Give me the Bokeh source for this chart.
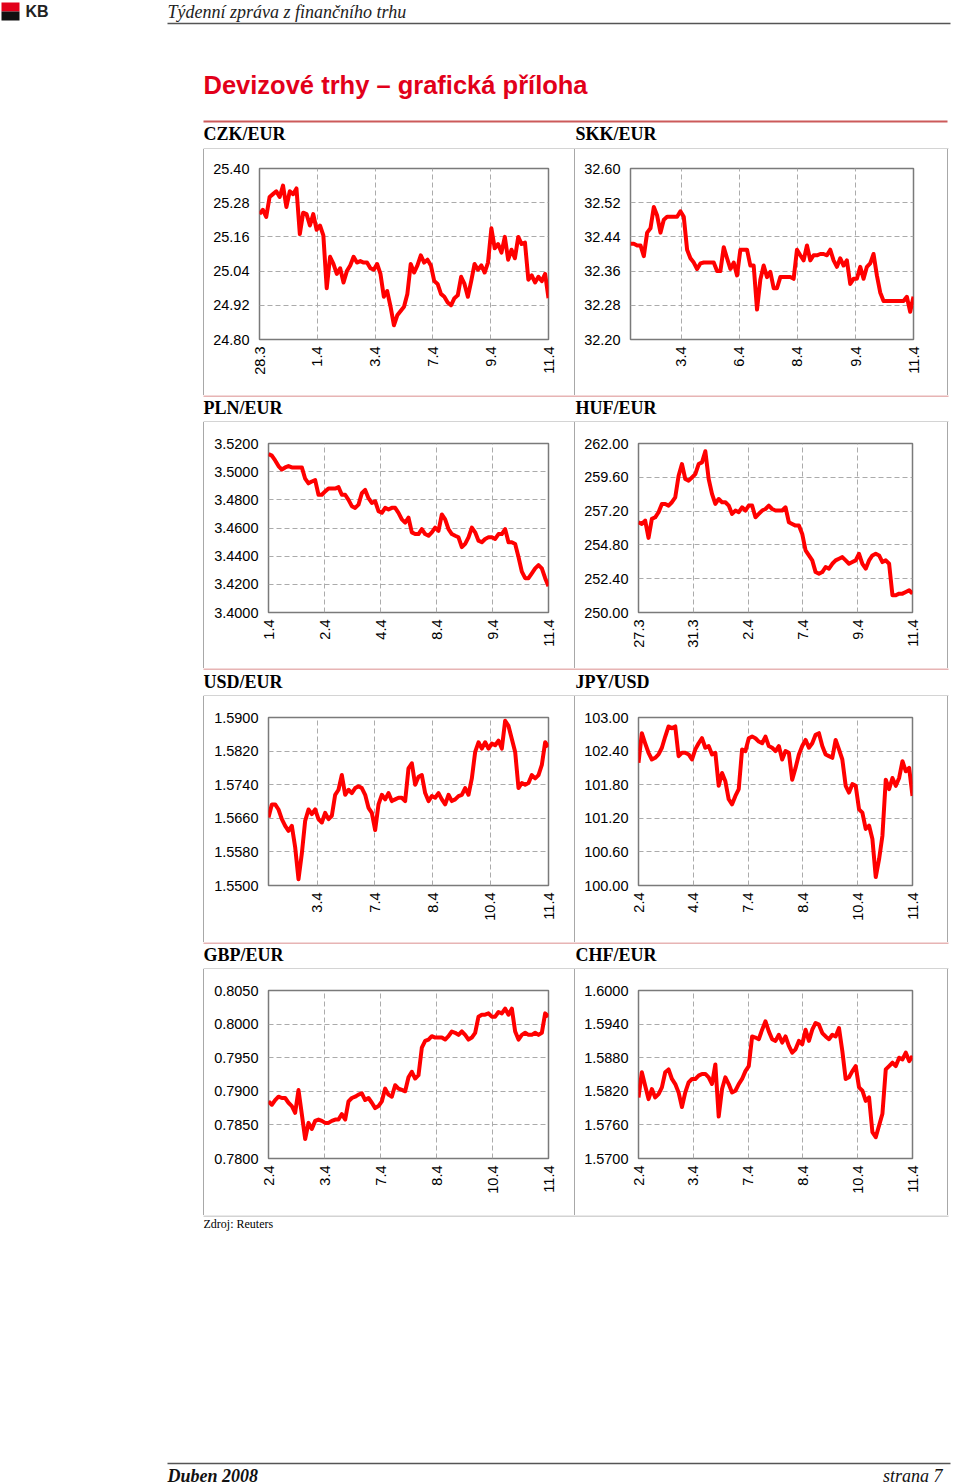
import math
from bokeh.plotting import figure
from bokeh.layouts import column, row
from bokeh.models import Range1d, FixedTicker, NumeralTickFormatter, Spacer
from bokeh.core.properties import value
from bokeh.embed import file_html
from bokeh.resources import INLINE

# ---------------- data ----------------
czk_eur = [25.24, 25.255, 25.23, 25.30, 25.31, 25.32, 25.30, 25.34, 25.265, 25.32,
           25.31, 25.33, 25.17, 25.245, 25.24, 25.20, 25.24, 25.185, 25.20, 25.165,
           24.98, 25.09, 25.065, 25.03, 25.05, 25.00, 25.04, 25.06, 25.09, 25.07,
           25.075, 25.07, 25.07, 25.05, 25.045, 25.065, 25.03, 24.95, 24.97, 24.915,
           24.85, 24.885, 24.90, 24.915, 24.96, 25.065, 25.035, 25.06, 25.095, 25.07,
           25.08, 25.06, 25.005, 24.995, 24.96, 24.95, 24.93, 24.92, 24.945, 24.955,
           25.02, 24.995, 24.95, 25.005, 25.065, 25.045, 25.06, 25.035, 25.07, 25.19,
           25.12, 25.135, 25.105, 25.16, 25.08, 25.115, 25.085, 25.16, 25.135, 25.14,
           25.01, 25.025, 25.00, 25.02, 25.005, 25.03, 24.945]
czk_yticks = [24.80, 24.92, 25.04, 25.16, 25.28, 25.40]
czk_xticks = [0, 17.2, 34.4, 51.6, 68.8, 86]
czk_xlabels = ["28.3", "1.4", "3.4", "7.4", "9.4", "11.4"]

skk_eur = [32.424, 32.424, 32.42, 32.42, 32.395, 32.45, 32.46, 32.51, 32.49, 32.45,
           32.48, 32.487, 32.487, 32.487, 32.487, 32.50, 32.487, 32.41, 32.39, 32.38,
           32.365, 32.378, 32.38, 32.38, 32.38, 32.38, 32.36, 32.36, 32.416, 32.39,
           32.365, 32.38, 32.35, 32.41, 32.41, 32.41, 32.373, 32.373, 32.27, 32.34,
           32.373, 32.346, 32.358, 32.32, 32.32, 32.346, 32.346, 32.346, 32.346, 32.342,
           32.41, 32.397, 32.385, 32.42, 32.385, 32.397, 32.397, 32.40, 32.40, 32.397,
           32.41, 32.385, 32.37, 32.39, 32.373, 32.385, 32.33, 32.342, 32.342, 32.37,
           32.342, 32.37, 32.378, 32.40, 32.35, 32.31, 32.29, 32.29, 32.29, 32.29,
           32.29, 32.29, 32.29, 32.30, 32.265, 32.30]
skk_yticks = [32.20, 32.28, 32.36, 32.44, 32.52, 32.60]
skk_xticks = [15.2, 32.6, 50.1, 67.6, 85]
skk_xlabels = ["3.4", "6.4", "8.4", "9.4", "11.4"]

pln_eur = [3.5126, 3.5114, 3.508, 3.504, 3.5015, 3.503, 3.504, 3.503, 3.503, 3.503,
           3.503, 3.495, 3.4917, 3.493, 3.494, 3.4836, 3.4836, 3.486, 3.488, 3.488,
           3.488, 3.489, 3.4836, 3.4836, 3.48, 3.4755, 3.4743, 3.4766, 3.4847, 3.487,
           3.4812, 3.4778, 3.479, 3.472, 3.4708, 3.4743, 3.4731, 3.4743, 3.4743, 3.4708,
           3.4661, 3.4638, 3.4673, 3.4569, 3.4557, 3.4557, 3.4592, 3.4557, 3.4545, 3.4569,
           3.4603, 3.458, 3.4696, 3.4661, 3.4592, 3.4557, 3.4545, 3.4534, 3.4464, 3.4487,
           3.4534, 3.4603, 3.4569, 3.451, 3.4499, 3.4522, 3.4534, 3.4534, 3.4522, 3.4557,
           3.4557, 3.4592, 3.4499, 3.4499, 3.4487, 3.4394, 3.429, 3.4244, 3.4244, 3.4278,
           3.4313, 3.4336, 3.4313, 3.4244, 3.4186]
pln_yticks = [3.40, 3.42, 3.44, 3.46, 3.48, 3.50, 3.52]
pln_xticks = [0, 16.8, 33.6, 50.4, 67.2, 84]
pln_xlabels = ["1.4", "2.4", "4.4", "8.4", "9.4", "11.4"]

huf_eur = [256.41, 256.29, 256.53, 255.3, 256.65, 256.76, 257.12, 257.71, 257.71, 257.59,
           257.83, 258.18, 259.71, 260.54, 259.48, 259.36, 259.59, 259.83, 260.54, 260.66,
           261.45, 259.48, 258.42, 257.71, 258.06, 257.83, 257.83, 257.59, 257.0, 257.24,
           257.12, 257.47, 257.24, 257.59, 257.59, 256.76, 257.0, 257.24, 257.35, 257.59,
           257.35, 257.24, 257.24, 257.24, 257.47, 256.41, 256.29, 256.17, 256.17, 255.58,
           254.41, 254.05, 253.70, 252.87, 252.75, 252.87, 253.23, 253.11, 253.46, 253.70,
           253.82, 253.93, 253.70, 253.46, 253.58, 253.70, 254.17, 253.46, 253.11, 253.70,
           254.05, 254.17, 254.05, 253.58, 253.70, 253.46, 251.22, 251.22, 251.34, 251.34,
           251.46, 251.58, 251.34]
huf_yticks = [250.00, 252.40, 254.80, 257.20, 259.60, 262.00]
huf_xticks = [0, 16.4, 32.8, 49.2, 65.6, 82]
huf_xlabels = ["27.3", "31.3", "2.4", "7.4", "9.4", "11.4"]

usd_eur = [1.5662, 1.5693, 1.5693, 1.5681, 1.5658, 1.5642, 1.563, 1.5642, 1.5591, 1.5515,
           1.5576, 1.5654, 1.5681, 1.567, 1.5681, 1.5658, 1.565, 1.5673, 1.5658, 1.5666,
           1.5716, 1.5728, 1.5763, 1.5716, 1.5728, 1.572, 1.5732, 1.5736, 1.5732, 1.5716,
           1.5685, 1.5673, 1.5632, 1.5693, 1.5716, 1.5705, 1.572, 1.5701, 1.5705, 1.5709,
           1.5709, 1.5701, 1.5779, 1.5791, 1.574, 1.5759, 1.5763, 1.572, 1.5701, 1.5713,
           1.5709, 1.572, 1.5705, 1.5693, 1.5716, 1.5701, 1.5705, 1.5713, 1.5716, 1.5732,
           1.5716, 1.5755, 1.5818, 1.5841, 1.5826, 1.5841, 1.5826, 1.5838, 1.5834, 1.5845,
           1.5826, 1.5892, 1.588, 1.5849, 1.5818, 1.5732, 1.5744, 1.574, 1.5744, 1.5763,
           1.5755, 1.5763, 1.5787, 1.5841, 1.583]
usd_yticks = [1.5500, 1.5580, 1.5660, 1.5740, 1.5820, 1.5900]
usd_xticks = [14.6, 31.9, 49.2, 66.5, 84]
usd_xlabels = ["3.4", "7.4", "8.4", "10.4", "11.4"]

jpy_usd = [102.19, 102.72, 102.54, 102.37, 102.25, 102.28, 102.34, 102.46, 102.66, 102.84,
           102.81, 102.84, 102.31, 102.37, 102.37, 102.34, 102.25, 102.43, 102.54, 102.63,
           102.46, 102.49, 102.34, 102.37, 101.78, 102.01, 101.86, 101.54, 101.45, 101.60,
           101.72, 102.43, 102.40, 102.63, 102.66, 102.63, 102.57, 102.54, 102.66, 102.49,
           102.46, 102.40, 102.49, 102.25, 102.40, 102.37, 101.89, 102.10, 102.34, 102.49,
           102.60, 102.46, 102.54, 102.69, 102.72, 102.49, 102.34, 102.31, 102.28, 102.60,
           102.43, 102.25, 101.78, 101.66, 101.81, 101.78, 101.36, 101.30, 101.01, 101.07,
           100.83, 100.15, 100.47, 100.89, 101.89, 101.72, 101.92, 101.78, 101.92, 102.22,
           102.04, 102.10, 101.60]
jpy_yticks = [100.00, 100.60, 101.20, 101.80, 102.40, 103.00]
jpy_xticks = [0, 16.4, 32.8, 49.2, 65.6, 82]
jpy_xlabels = ["2.4", "4.4", "7.4", "8.4", "10.4", "11.4"]

gbp_eur = [0.7885, 0.7880, 0.7887, 0.7892, 0.7890, 0.7890, 0.7883, 0.7878, 0.7868, 0.7902,
           0.7866, 0.7829, 0.7853, 0.7844, 0.7856, 0.7858, 0.7856, 0.7853, 0.7853, 0.7856,
           0.7858, 0.7858, 0.7866, 0.7858, 0.7885, 0.7890, 0.7892, 0.7895, 0.7897, 0.7887,
           0.7890, 0.7883, 0.7875, 0.7878, 0.7885, 0.7904, 0.7895, 0.7892, 0.7909, 0.7904,
           0.7902, 0.7900, 0.7921, 0.7929, 0.7919, 0.7924, 0.7965, 0.7975, 0.7977, 0.7982,
           0.7980, 0.7980, 0.7980, 0.7977, 0.7982, 0.7989, 0.7987, 0.7984, 0.7989, 0.7984,
           0.7977, 0.7980, 0.7987, 0.8011, 0.8014, 0.8014, 0.8016, 0.8011, 0.8011, 0.8018,
           0.8016, 0.8023, 0.8014, 0.8023, 0.7989, 0.7977, 0.7984, 0.7987, 0.7984, 0.7984,
           0.7987, 0.7984, 0.7987, 0.8016, 0.8011]
gbp_yticks = [0.7800, 0.7850, 0.7900, 0.7950, 0.8000, 0.8050]
gbp_xticks = [0, 16.8, 33.6, 50.4, 67.2, 84]
gbp_xlabels = ["2.4", "3.4", "7.4", "8.4", "10.4", "11.4"]

chf_eur = [1.5809, 1.5854, 1.5830, 1.5806, 1.5824, 1.5809, 1.5815, 1.5827, 1.5854, 1.5859,
           1.5842, 1.5833, 1.5818, 1.5792, 1.5818, 1.5836, 1.5842, 1.5842, 1.5848, 1.5851,
           1.5851, 1.5845, 1.5833, 1.5868, 1.5775, 1.5824, 1.5845, 1.5833, 1.5818, 1.5821,
           1.5833, 1.5842, 1.5856, 1.5865, 1.5918, 1.5916, 1.5913, 1.5930, 1.5945, 1.5927,
           1.5913, 1.5910, 1.5921, 1.5907, 1.5918, 1.5901, 1.5889, 1.5895, 1.5910, 1.5904,
           1.5930, 1.5910, 1.5930, 1.5942, 1.5939, 1.5924, 1.5918, 1.5913, 1.5921, 1.5918,
           1.5933, 1.5892, 1.5842, 1.5845, 1.5856, 1.5865, 1.5827, 1.5821, 1.5803, 1.5809,
           1.5747, 1.5738, 1.5759, 1.5780, 1.5859, 1.5865, 1.5871, 1.5865, 1.5880, 1.5877,
           1.5889, 1.5874, 1.5883]
chf_yticks = [1.5700, 1.5760, 1.5820, 1.5880, 1.5940, 1.6000]
chf_xticks = [0, 16.4, 32.8, 49.2, 65.6, 82]
chf_xlabels = ["2.4", "3.4", "7.4", "8.4", "10.4", "11.4"]

panel_titles = ["CZK/EUR", "SKK/EUR", "PLN/EUR", "HUF/EUR",
                "USD/EUR", "JPY/USD", "GBP/EUR", "CHF/EUR"]

SANS = "Liberation Sans"
SERIF = "Liberation Serif"
RED_RULE = "#d06a6a"
GRAY_BORDER = "#a8a8a8"


def chart(vals, yticks, yfmt, x_end, xticks, xlabels, width, ml, mr, mt, mb, height=246):
    p = figure(width=width, height=height, output_backend="svg", toolbar_location=None,
               tools="", x_range=Range1d(0, x_end), y_range=Range1d(yticks[0], yticks[-1]),
               min_border_left=ml, min_border_right=mr, min_border_top=mt,
               min_border_bottom=mb)
    p.background_fill_color = "white"
    p.border_fill_color = "white"
    p.outline_line_color = "#7a7a7a"
    p.outline_line_width = 1.5
    p.line(list(range(len(vals))), vals, line_color="#ff0000", line_width=4,
           line_join="round")
    p.xaxis.ticker = FixedTicker(ticks=xticks)
    p.yaxis.ticker = FixedTicker(ticks=yticks)
    p.xgrid.ticker = FixedTicker(ticks=xticks)
    p.ygrid.ticker = FixedTicker(ticks=yticks)
    p.xaxis.major_label_overrides = {t: l for t, l in zip(xticks, xlabels)}
    p.xaxis.major_label_orientation = math.pi / 2
    p.yaxis.formatter = NumeralTickFormatter(format=yfmt)
    for ax in (p.xaxis[0], p.yaxis[0]):
        ax.axis_line_color = None
        ax.major_tick_in = 0
        ax.major_tick_out = 0
        ax.minor_tick_in = 0
        ax.minor_tick_out = 0
        ax.major_label_text_font = SANS
        ax.major_label_text_font_size = "14.5px"
        ax.major_label_text_color = "#000000"
    p.xaxis.major_label_standoff = 7
    p.yaxis.major_label_standoff = 10
    for g in (p.xgrid[0], p.ygrid[0]):
        g.grid_line_color = "#ababab"
        g.grid_line_dash = "5 3"
        g.grid_line_width = 1
    return p


def deco(height):
    p = figure(width=960, height=height, output_backend="svg", toolbar_location=None,
               tools="", x_range=Range1d(0, 960), y_range=Range1d(height, 0),
               x_axis_type=None, y_axis_type=None, min_border=0)
    p.grid.visible = False
    p.outline_line_color = None
    p.background_fill_color = "white"
    p.border_fill_color = "white"
    return p


def labels(p, y, left_text, right_text):
    p.text(x=[203, 575], y=[y, y], text=[left_text, right_text],
           text_font=value(SERIF), text_font_style="bold", text_font_size="18px",
           text_baseline="middle", text_align="left", text_color="#000000")


def vline(h):
    return Spacer(width=1, height=h, styles={"background-color": GRAY_BORDER})


def cell_row(left, right, h=246):
    return row(Spacer(width=203, height=h), vline(h), left, vline(h), right, vline(h),
               Spacer(width=12, height=h))


# ---------------- header ----------------
head = deco(149)
head.quad(left=[1], right=[19], top=[2], bottom=[11], fill_color="#e2001a", line_color=None)
head.quad(left=[1], right=[19], top=[11], bottom=[20], fill_color="#111111", line_color=None)
head.text(x=[25], y=[11], text=["KB"], text_font=value(SANS), text_font_style="bold",
          text_font_size="16px", text_baseline="middle", text_color="#222222")
head.text(x=[167], y=[11], text=["Týdenní zpráva z finančního trhu"], text_font=value(SERIF),
          text_font_style="italic", text_font_size="18px", text_baseline="middle",
          text_color="#222222")
head.segment(x0=[167], y0=[23], x1=[950], y1=[23], line_color="#555555", line_width=1.5)
head.text(x=[203], y=[84], text=["Devizové trhy – grafická příloha"], text_font=value(SANS),
          text_font_style="bold", text_font_size="25.5px", text_baseline="middle",
          text_color="#e2001a")
head.segment(x0=[203], y0=[121], x1=[947], y1=[121], line_color="#cc5a5a", line_width=2)
labels(head, 133, panel_titles[0], panel_titles[1])
head.segment(x0=[203], y0=[148.5], x1=[948], y1=[148.5], line_color=GRAY_BORDER, line_width=1)


def band(h, ly, lt, rt):
    b = deco(h)
    b.segment(x0=[203], y0=[0.5], x1=[948], y1=[0.5], line_color=RED_RULE, line_width=1.2)
    b.segment(x0=[203], y0=[h - 0.5], x1=[948], y1=[h - 0.5], line_color=GRAY_BORDER,
              line_width=1)
    labels(b, ly, lt, rt)
    return b


band2 = band(27, 12, panel_titles[2], panel_titles[3])
band3 = band(28, 13, panel_titles[4], panel_titles[5])
band4 = band(27, 12, panel_titles[6], panel_titles[7])

# ---------------- footer ----------------
foot = deco(269)
foot.segment(x0=[203], y0=[0.5], x1=[948], y1=[0.5], line_color=GRAY_BORDER, line_width=1)
foot.text(x=[203], y=[8], text=["Zdroj: Reuters"], text_font=value(SERIF),
          text_font_size="12px", text_baseline="middle", text_color="#000000")
foot.segment(x0=[167], y0=[248], x1=[950], y1=[248], line_color="#555555", line_width=1.5)
foot.text(x=[167], y=[260], text=["Duben 2008"], text_font=value(SERIF),
          text_font_style="bold italic", text_font_size="18px", text_baseline="middle",
          text_color="#111111")
foot.text(x=[942], y=[260], text=["strana 7"], text_font=value(SERIF),
          text_font_style="italic", text_font_size="18px", text_baseline="middle",
          text_align="right", text_color="#111111")

# ---------------- charts ----------------
p_czk = chart(czk_eur, czk_yticks, "0.00", 86, czk_xticks, czk_xlabels, 370, 55, 26, 19, 54)
p_skk = chart(skk_eur, skk_yticks, "0.00", 85, skk_xticks, skk_xlabels, 372, 55, 34, 19, 56)
p_pln = chart(pln_eur, pln_yticks, "0.0000", 84, pln_xticks, pln_xlabels, 370, 64, 26, 21, 53)
p_huf = chart(huf_eur, huf_yticks, "0.00", 82, huf_xticks, huf_xlabels, 372, 63, 35, 21, 56)
p_usd = chart(usd_eur, usd_yticks, "0.0000", 84, usd_xticks, usd_xlabels, 370, 64, 26, 21, 55)
p_jpy = chart(jpy_usd, jpy_yticks, "0.00", 82, jpy_xticks, jpy_xlabels, 372, 63, 35, 20, 57)
p_gbp = chart(gbp_eur, gbp_yticks, "0.0000", 84, gbp_xticks, gbp_xlabels, 370, 64, 26, 21, 54)
p_chf = chart(chf_eur, chf_yticks, "0.0000", 82, chf_xticks, chf_xlabels, 372, 63, 35, 20, 57)

page = column(head,
              cell_row(p_czk, p_skk),
              band2,
              cell_row(p_pln, p_huf),
              band3,
              cell_row(p_usd, p_jpy),
              band4,
              cell_row(p_gbp, p_chf),
              foot)

open("out.html", "w").write(file_html(page, INLINE))
